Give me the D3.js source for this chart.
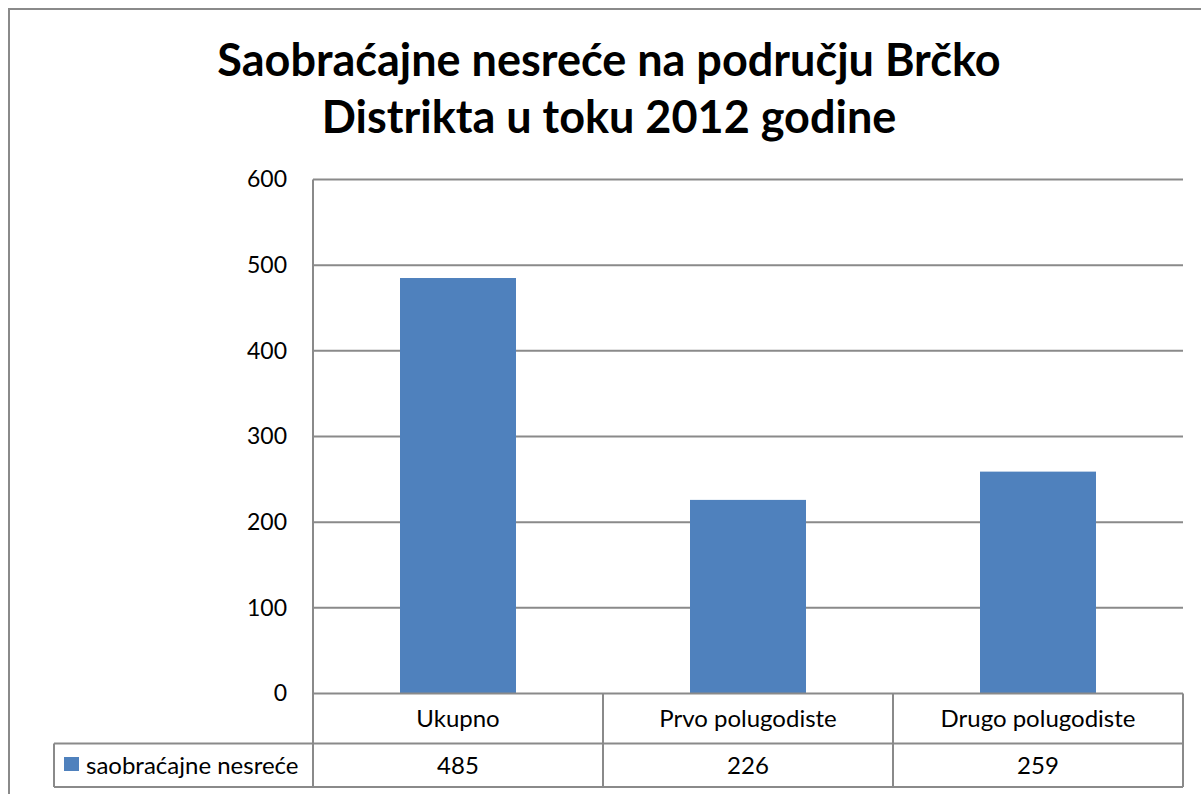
<!DOCTYPE html>
<html><head><meta charset="utf-8">
<script src="https://cdn.jsdelivr.net/npm/d3@7/dist/d3.min.js"></script>
<style>html,body{margin:0;padding:0;background:#fff;}svg{display:block;}</style>
</head><body>
<script>
const categories = ["Ukupno", "Prvo polugodiste", "Drugo polugodiste"];
const seriesName = "saobraćajne nesreće";
const values = [485, 226, 259];
const yTicks = [0, 100, 200, 300, 400, 500, 600];
const titleLines = ["Saobraćajne nesreće na području Brčko", "Distrikta u toku 2012 godine"];

const W = 1201, H = 794;
const font = "Lato, 'Open Sans', sans-serif";
const lineColor = "#8a8a8a";
const svg = d3.select("body").append("svg").attr("width", W).attr("height", H);

// outer chart border
svg.append("rect").attr("x", 9).attr("y", 9).attr("width", 1200).attr("height", 800)
  .attr("fill", "none").attr("stroke", lineColor).attr("stroke-width", 2);

const plot = {left: 313, right: 1183, top: 179.5, bottom: 693.5};
const rowH1 = 743.5, rowH2 = 787;
const legendLeft = 54;

const x = d3.scaleBand().domain(categories).range([plot.left, plot.right]).paddingInner(0).paddingOuter(0);
const y = d3.scaleLinear().domain([0, 600]).range([plot.bottom, plot.top]);

// title
svg.append("g").selectAll("text").data(titleLines).join("text")
  .attr("x", 609).attr("y", (d, i) => 76 + i * 57)
  .attr("text-anchor", "middle").attr("font-family", font).attr("font-weight", "bold")
  .attr("font-size", 45).attr("fill", "#000").text(d => d);

// gridlines
svg.append("g").selectAll("line").data(yTicks.filter(t => t > 0)).join("line")
  .attr("x1", plot.left).attr("x2", plot.right)
  .attr("y1", d => y(d)).attr("y2", d => y(d))
  .attr("stroke", lineColor).attr("stroke-width", 2);

// y axis labels
const yAxis = d3.axisLeft(y).tickValues(yTicks).tickSize(0).tickPadding(26);
const gy = svg.append("g").attr("transform", `translate(${plot.left},0)`).call(yAxis);
gy.select(".domain").remove();
gy.selectAll("text").attr("font-family", font).attr("font-size", 23).attr("fill", "#000");

// bars
svg.append("g").selectAll("rect").data(values).join("rect")
  .attr("x", (d, i) => x(categories[i]) + x.bandwidth() * 0.3)
  .attr("width", x.bandwidth() * 0.4)
  .attr("y", d => y(d)).attr("height", d => y(0) - y(d))
  .attr("fill", "#4F81BD");

// data table
const tg = svg.append("g");
tg.append("line").attr("x1", plot.left).attr("x2", plot.right).attr("y1", y(0)).attr("y2", y(0))
  .attr("stroke", lineColor).attr("stroke-width", 2);
tg.append("line").attr("x1", legendLeft).attr("x2", plot.right).attr("y1", rowH1).attr("y2", rowH1)
  .attr("stroke", lineColor).attr("stroke-width", 2);
tg.append("line").attr("x1", legendLeft).attr("x2", plot.right).attr("y1", rowH2).attr("y2", rowH2)
  .attr("stroke", lineColor).attr("stroke-width", 2);
tg.append("line").attr("x1", legendLeft).attr("x2", legendLeft).attr("y1", rowH1).attr("y2", rowH2)
  .attr("stroke", lineColor).attr("stroke-width", 2);
tg.append("line").attr("x1", plot.left).attr("x2", plot.left).attr("y1", plot.top).attr("y2", rowH2)
  .attr("stroke", lineColor).attr("stroke-width", 2);
tg.selectAll("line.col").data(categories).join("line").attr("class", "col")
  .attr("x1", d => x(d) + x.bandwidth()).attr("x2", d => x(d) + x.bandwidth())
  .attr("y1", y(0)).attr("y2", rowH2)
  .attr("stroke", lineColor).attr("stroke-width", 2);

tg.selectAll("text.cat").data(categories).join("text").attr("class", "cat")
  .attr("x", d => x(d) + x.bandwidth() / 2).attr("y", (y(0) + rowH1) / 2)
  .attr("dy", "0.35em").attr("text-anchor", "middle")
  .attr("font-family", font).attr("font-size", 24).attr("fill", "#000").text(d => d);
tg.selectAll("text.val").data(values).join("text").attr("class", "val")
  .attr("x", (d, i) => x(categories[i]) + x.bandwidth() / 2).attr("y", (rowH1 + rowH2) / 2)
  .attr("dy", "0.35em").attr("text-anchor", "middle")
  .attr("font-family", font).attr("font-size", 24).attr("fill", "#000").text(d => d);
tg.append("rect").attr("x", 64).attr("y", 757).attr("width", 15).attr("height", 14).attr("fill", "#4F81BD");
tg.append("text").attr("x", 86).attr("y", (rowH1 + rowH2) / 2).attr("dy", "0.35em")
  .attr("font-family", font).attr("font-size", 24).attr("fill", "#000").text(seriesName);
</script>
</body></html>
